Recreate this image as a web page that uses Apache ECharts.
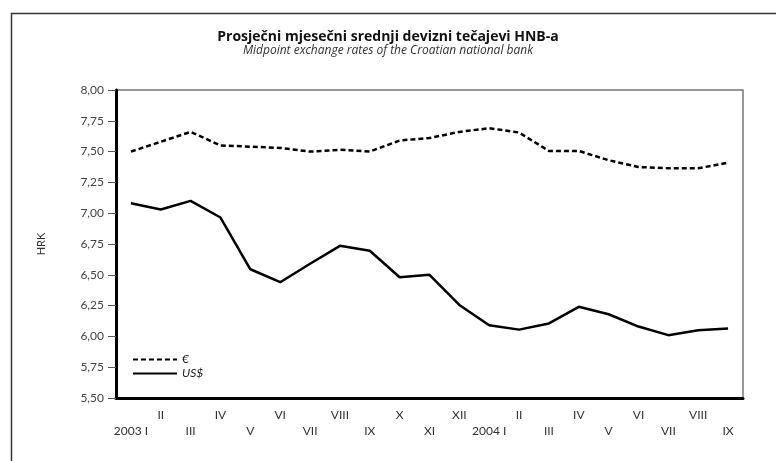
<!DOCTYPE html>
<html>
<head>
<meta charset="utf-8">
<script src="https://cdn.jsdelivr.net/npm/echarts@6/dist/echarts.min.js"></script>
<style>
  html, body { margin: 0; padding: 0; background: #fff; }
  #chart { width: 776px; height: 461px; }
</style>
</head>
<body>
<div id="chart"></div>
<script>
const months = ['2003 I', 'II', 'III', 'IV', 'V', 'VI', 'VII', 'VIII', 'IX', 'X', 'XI', 'XII',
  '2004 I', 'II', 'III', 'IV', 'V', 'VI', 'VII', 'VIII', 'IX']
const eur = [7.50, 7.58, 7.66, 7.55, 7.54, 7.53, 7.50, 7.515, 7.50, 7.59, 7.61, 7.66,
  7.69, 7.655, 7.505, 7.505, 7.43, 7.375, 7.365, 7.365, 7.41]
const usd = [7.08, 7.03, 7.10, 6.965, 6.545, 6.44, 6.59, 6.735, 6.695, 6.48, 6.50, 6.255,
  6.09, 6.055, 6.105, 6.24, 6.18, 6.08, 6.01, 6.05, 6.065]

const font = 'Lato, "Open Sans", sans-serif'
const titleFont = '"Open Sans", Lato, sans-serif'

const chart = echarts.init(document.getElementById('chart'))
const option = {
  animation: false,
  textStyle: { fontFamily: font },
  title: {
    text: 'Prosječni mjesečni srednji devizni tečajevi HNB-a',
    subtext: 'Midpoint exchange rates of the Croatian national bank',
    left: 'center',
    top: 25,
    itemGap: 1,
    textStyle: { fontFamily: titleFont, fontSize: 14, fontWeight: 'bold', color: '#111' },
    subtextStyle: { fontFamily: titleFont, fontSize: 12, fontStyle: 'italic', color: '#333' }
  },
  graphic: [
    {
      type: 'rect',
      shape: { x: 11.5, y: 13.5, width: 1000, height: 1000 },
      style: { fill: 'none', stroke: '#333', lineWidth: 1.5 },
      silent: true
    }
  ],
  legend: {
    orient: 'vertical',
    left: 127,
    top: 348,
    itemWidth: 44,
    itemHeight: 10,
    itemGap: 1,
    itemStyle: { opacity: 0 },
    textStyle: { fontFamily: font, fontSize: 12, lineHeight: 13, fontStyle: 'italic', color: '#222' },
    data: ['€', 'US$']
  },
  grid: {
    left: 116,
    right: 33,
    top: 90,
    bottom: 63,
    show: true,
    borderColor: '#777',
    borderWidth: 1.5
  },
  xAxis: {
    type: 'category',
    data: months,
    boundaryGap: true,
    axisLine: { lineStyle: { color: '#000', width: 3 } },
    axisTick: { show: false },
    axisLabel: {
      interval: 0,
      margin: 9,
      color: '#333',
      fontSize: 12,
      lineHeight: 16,
      formatter: (value, index) => (index % 2 ? value : '\n' + value)
    }
  },
  yAxis: {
    type: 'value',
    min: 5.5,
    max: 8,
    interval: 0.25,
    name: 'HRK',
    nameLocation: 'middle',
    nameRotate: 90,
    nameGap: 69,
    nameTextStyle: { fontFamily: font, fontSize: 11, color: '#333' },
    axisLine: { show: true, lineStyle: { color: '#000', width: 3 } },
    axisTick: { show: true, length: 8, lineStyle: { color: '#555', width: 1 } },
    splitLine: { show: false },
    axisLabel: {
      margin: 12,
      color: '#444',
      fontSize: 12,
      formatter: v => v.toFixed(2).replace('.', ',')
    }
  },
  series: [
    {
      name: '€',
      type: 'line',
      data: eur,
      symbol: 'none',
      lineStyle: { color: '#000', width: 2.5, type: [5, 3] },
      itemStyle: { color: '#000' }
    },
    {
      name: 'US$',
      type: 'line',
      data: usd,
      symbol: 'none',
      lineStyle: { color: '#000', width: 2.5 },
      itemStyle: { color: '#000' }
    }
  ]
}
chart.setOption(option)
</script>
</body>
</html>
